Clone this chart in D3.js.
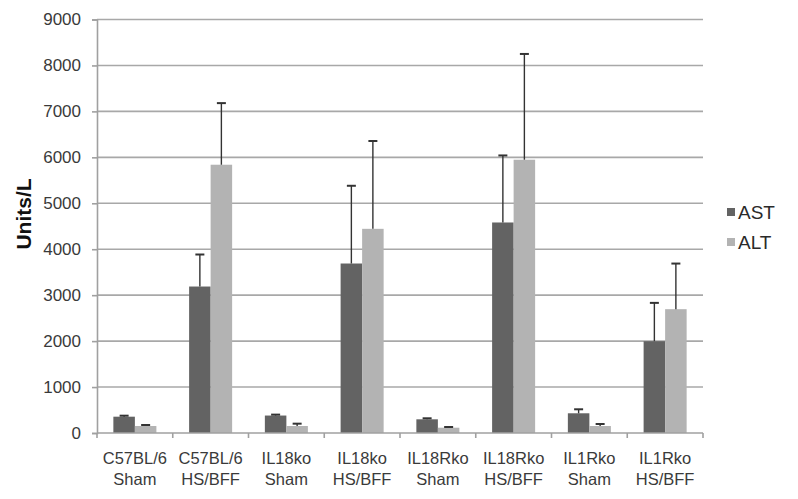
<!DOCTYPE html>
<html>
<head>
<meta charset="utf-8">
<script src="https://cdn.jsdelivr.net/npm/d3@7"></script>
<style>
  body { margin: 0; background: #fff; }
  svg { font-family: "Liberation Sans", Arial, sans-serif; }
</style>
</head>
<body>
<svg id="canvas" width="798" height="499"></svg>
<script>
const groups = [
  ['C57BL/6', 'Sham'], ['C57BL/6', 'HS/BFF'],
  ['IL18ko', 'Sham'], ['IL18ko', 'HS/BFF'],
  ['IL18Rko', 'Sham'], ['IL18Rko', 'HS/BFF'],
  ['IL1Rko', 'Sham'], ['IL1Rko', 'HS/BFF']
];
const seriesNames = ['AST', 'ALT'];
const astValues = [355, 3188, 380, 3689, 298, 4582, 429, 1998];
const astErrors = [22, 697, 20, 1692, 22, 1459, 87, 834];
const altValues = [152, 5839, 152, 4444, 115, 5948, 152, 2695];
const altErrors = [22, 1341, 51, 1911, 15, 2302, 44, 993];
const yTicks = [0, 1000, 2000, 3000, 4000, 5000, 6000, 7000, 8000, 9000];

const colors = { AST: '#636363', ALT: '#b3b3b3' };

const svg = d3.select('#canvas');

const keys = groups.map((g, i) => 'g' + i);

const x0 = d3.scaleBand()
  .domain(keys)
  .range([97, 703])
  .paddingInner(0.432)
  .paddingOuter(0.216);

const x1 = d3.scaleBand()
  .domain(seriesNames)
  .range([0, x0.bandwidth()]);

const y = d3.scaleLinear()
  .domain([0, 9000])
  .range([433, 19.5]);

// gridlines
svg.append('g')
  .selectAll('line')
  .data(yTicks.slice(1))
  .enter()
  .append('line')
  .attr('x1', 97)
  .attr('x2', 703)
  .attr('y1', (d) => y(d))
  .attr('y2', (d) => y(d))
  .attr('stroke', '#a8a8a8')
  .attr('stroke-width', 1.6);

// y axis
const yAxis = svg.append('g')
  .attr('transform', 'translate(97,0)')
  .call(d3.axisLeft(y).tickValues(yTicks).tickFormat(d3.format('d')).tickSize(5).tickPadding(11))
  .attr('font-size', 17)
  .attr('font-family', '"Liberation Sans", Arial, sans-serif');
yAxis.select('.domain').attr('stroke', '#a0a0a0').attr('stroke-width', 1.6);
yAxis.selectAll('.tick line').attr('stroke', '#a0a0a0').attr('stroke-width', 1.6);
yAxis.selectAll('.tick text').attr('fill', '#3a3a3a');

// bars
const rows = groups.map((g, i) => ({
  key: keys[i],
  values: [
    { name: 'AST', value: astValues[i], err: astErrors[i] },
    { name: 'ALT', value: altValues[i], err: altErrors[i] }
  ]
}));

const block = svg.append('g')
  .selectAll('g')
  .data(rows)
  .enter()
  .append('g')
  .attr('transform', (d) => 'translate(' + x0(d.key) + ',0)');

block.selectAll('rect')
  .data((d) => d.values)
  .enter()
  .append('rect')
  .attr('x', (d) => x1(d.name))
  .attr('width', x1.bandwidth())
  .attr('y', (d) => y(d.value))
  .attr('height', (d) => y(0) - y(d.value))
  .attr('fill', (d) => colors[d.name]);

// error bars (upper only)
const err = block.selectAll('g.err')
  .data((d) => d.values)
  .enter()
  .append('g')
  .attr('class', 'err')
  .attr('stroke', '#333')
  .attr('stroke-width', 1.4);

err.append('line')
  .attr('x1', (d) => x1(d.name) + x1.bandwidth() / 2)
  .attr('x2', (d) => x1(d.name) + x1.bandwidth() / 2)
  .attr('y1', (d) => y(d.value))
  .attr('y2', (d) => y(d.value + d.err));

err.append('line')
  .attr('x1', (d) => x1(d.name) + x1.bandwidth() / 2 - 4.5)
  .attr('x2', (d) => x1(d.name) + x1.bandwidth() / 2 + 4.5)
  .attr('y1', (d) => y(d.value + d.err))
  .attr('y2', (d) => y(d.value + d.err))
  .attr('stroke-width', 2);

// x axis
const xAxis = svg.append('g').attr('transform', 'translate(0,433)');
xAxis.append('line')
  .attr('x1', 97).attr('x2', 703)
  .attr('stroke', '#a0a0a0').attr('stroke-width', 1.6);
xAxis.selectAll('line.tk')
  .data(d3.range(keys.length + 1))
  .enter()
  .append('line')
  .attr('class', 'tk')
  .attr('x1', (i) => 97 + i * x0.step())
  .attr('x2', (i) => 97 + i * x0.step())
  .attr('y1', 0)
  .attr('y2', 5)
  .attr('stroke', '#a0a0a0')
  .attr('stroke-width', 1.6);

const labels = xAxis.selectAll('text')
  .data(groups)
  .enter()
  .append('text')
  .attr('x', (d, i) => x0(keys[i]) + x0.bandwidth() / 2)
  .attr('y', 31)
  .attr('text-anchor', 'middle')
  .attr('fill', '#3a3a3a')
  .style('font-size', '16.5px');
labels.append('tspan').text((d) => d[0]);
labels.append('tspan')
  .attr('x', (d, i) => x0(keys[i]) + x0.bandwidth() / 2)
  .attr('dy', 20.5)
  .text((d) => d[1]);

// y axis title
svg.append('text')
  .attr('transform', 'translate(31,214) rotate(-90)')
  .attr('text-anchor', 'middle')
  .attr('fill', '#111')
  .style('font-size', '21px')
  .style('font-weight', 'bold')
  .text('Units/L');

// legend
const legend = svg.append('g')
  .selectAll('g')
  .data(seriesNames)
  .enter()
  .append('g')
  .attr('transform', (d, i) => 'translate(727,' + (212 + i * 30) + ')');
legend.append('rect')
  .attr('x', 0).attr('y', -4)
  .attr('width', 8).attr('height', 8)
  .attr('fill', (d) => colors[d]);
legend.append('text')
  .attr('x', 11)
  .attr('y', 7)
  .attr('fill', '#2a2a2a')
  .style('font-size', '19px')
  .text((d) => d);
</script>
</body>
</html>
